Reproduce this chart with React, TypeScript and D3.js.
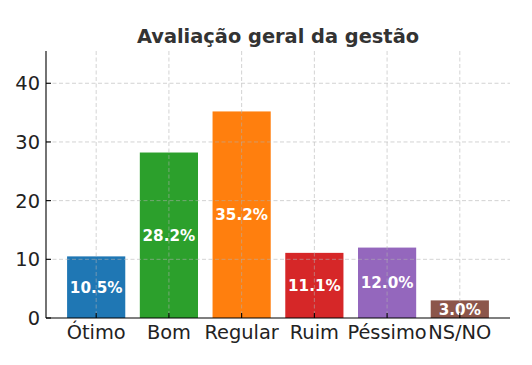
import React from 'react';
import * as d3 from 'd3';

const categories = ['Ótimo', 'Bom', 'Regular', 'Ruim', 'Péssimo', 'NS/NO'];
const values = [10.5, 28.2, 35.2, 11.1, 12.0, 3.0];
const colors = ['#1f77b4', '#2ca02c', '#ff7f0e', '#d62728', '#9467bd', '#8c564b'];
const yTicks = [0, 10, 20, 30, 40];

const W = 532;
const H = 365;
const margin = { top: 51, right: 22, bottom: 47, left: 46 };

const App = () => {
  const innerW = W - margin.left - margin.right;
  const innerH = H - margin.top - margin.bottom;

  // matplotlib-like x range: -0.69 .. 5.69
  const x = d3.scaleLinear().domain([-0.69, categories.length - 1 + 0.69]).range([0, innerW]);
  const step = x(1) - x(0);
  const barW = step * 0.8;
  const y = d3.scaleLinear().domain([0, 45.5]).range([innerH, 0]);

  const font = 'DejaVu Sans, sans-serif';

  return (
    <svg width={W} height={H} style={{ position: 'absolute', left: 0, top: 0 }}>
      <text x={margin.left + innerW / 2} y={43} textAnchor="middle" fontFamily={font}
        fontWeight="bold" fontSize={19.4} fill="#333">Avaliação geral da gestão</text>
      <g transform={`translate(${margin.left},${margin.top})`}>
        {categories.map((c, i) => (
          <rect key={c} x={x(i) - barW / 2} y={y(values[i])} width={barW}
            height={innerH - y(values[i])} fill={colors[i]} />
        ))}
        {/* grid on top */}
        {yTicks.slice(1).map(t => (
          <line key={'gy' + t} x1={0} x2={innerW} y1={y(t)} y2={y(t)}
            stroke="#b0b0b0" strokeOpacity={0.7} strokeDasharray="4,2.5" strokeWidth={0.8} />
        ))}
        {categories.map((c, i) => (
          <line key={'gx' + c} x1={x(i)} x2={x(i)} y1={0} y2={innerH}
            stroke="#b0b0b0" strokeOpacity={0.7} strokeDasharray="4,2.5" strokeWidth={0.8} />
        ))}
        {categories.map((c, i) => (
          <text key={'l' + c} x={x(i)} y={y(values[i] / 2)} dy="0.36em" textAnchor="middle"
            fontFamily={font} fontWeight="bold" fontSize={15.2} fill="#fff">
            {values[i].toFixed(1)}%
          </text>
        ))}
        {/* spines */}
        <line x1={0} x2={0} y1={0} y2={innerH} stroke="#000" strokeWidth={1.1} />
        <line x1={0} x2={innerW} y1={innerH} y2={innerH} stroke="#000" strokeWidth={1.1} />
        {yTicks.map(t => (
          <g key={'yt' + t}>
            <line x1={0} x2={5} y1={y(t)} y2={y(t)} stroke="#000" strokeWidth={1.1} />
            <text x={-6} y={y(t)} dy="0.36em" textAnchor="end" fontFamily={font}
              fontSize={19.4} fill="#222">{t}</text>
          </g>
        ))}
        {categories.map((c, i) => (
          <g key={'xt' + c}>
            <line x1={x(i)} x2={x(i)} y1={innerH} y2={innerH - 5} stroke="#000" strokeWidth={1.1} />
            <text x={x(i)} y={innerH + 21} textAnchor="middle" fontFamily={font}
              fontSize={19.4} fill="#222">{c}</text>
          </g>
        ))}
      </g>
    </svg>
  );
};

export default App;
